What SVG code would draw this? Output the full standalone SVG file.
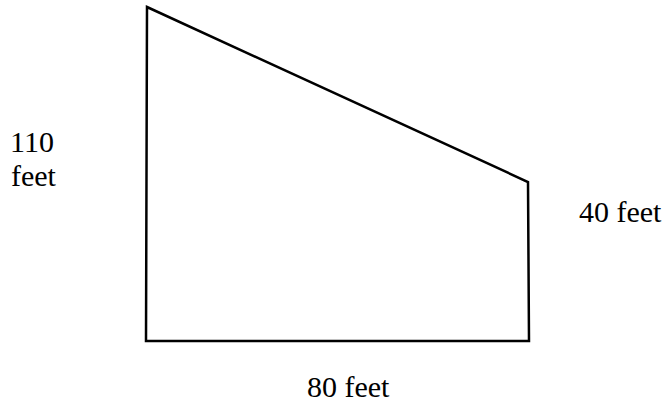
<svg xmlns="http://www.w3.org/2000/svg" width="670" height="402" viewBox="0 0 670 402">
<style>
.t{font-family:"Liberation Serif","Times New Roman",serif;font-size:30px;fill:#000}
</style>
<rect width="670" height="402" fill="#fff"/>
<g id="shape">
<polygon points="147,7 528,182 529,341 146,341" fill="none" stroke="#000" stroke-width="2.5" stroke-linejoin="miter"/>
</g>
<g id="labels">
<text class="t" x="10" y="152">110</text>
<text class="t" x="11" y="186">feet</text>
<text class="t" x="579" y="222">40 feet</text>
<text class="t" x="307" y="397">80 feet</text>
</g>
</svg>
